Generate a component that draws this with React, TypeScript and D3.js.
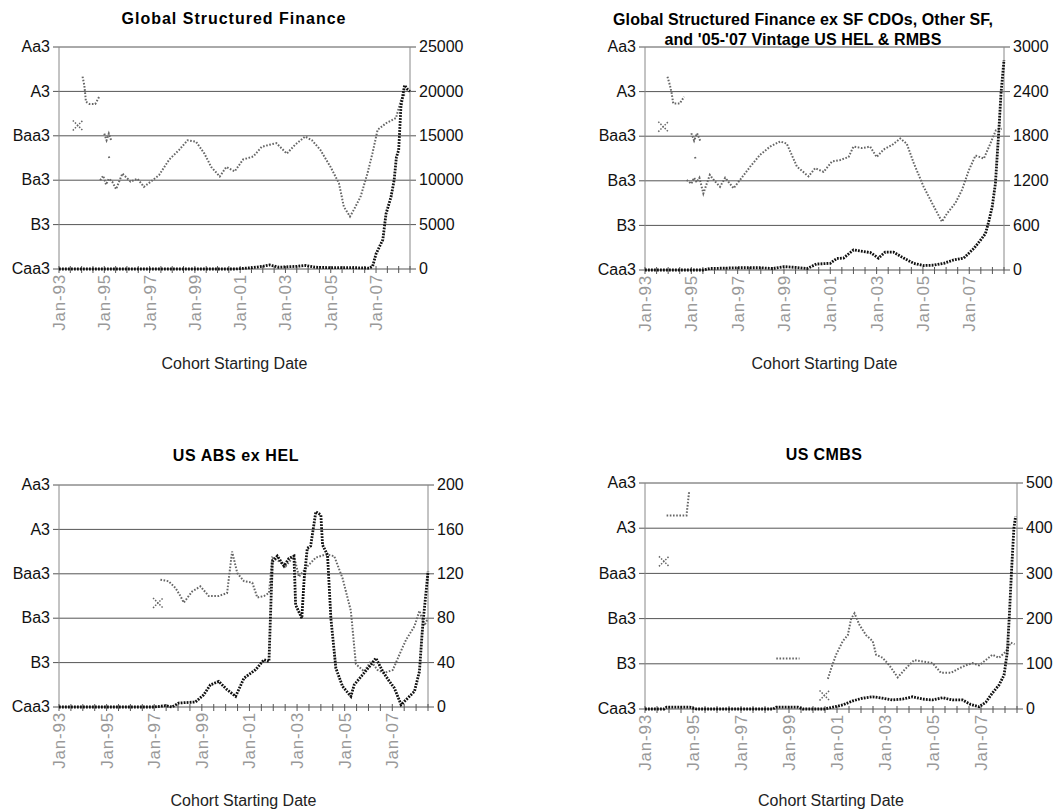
import React from "react";
import * as d3 from "d3";

type Pt = [number, number] | null;

// Rating scale (Moody's numeric: Aa3=4 ... Caa3=19)
const ratingLabels = ["Aa3", "A3", "Baa3", "Ba3", "B3", "Caa3"];
const ratingValues = [4, 7, 10, 13, 16, 19];
const xTickYears = [1993, 1995, 1997, 1999, 2001, 2003, 2005, 2007];
const xTickLabels = ["Jan-93", "Jan-95", "Jan-97", "Jan-99", "Jan-01", "Jan-03", "Jan-05", "Jan-07"];
const xStart = 1993;
const xEnd = 2008.5;
const axisTitle = "Cohort Starting Date";

// Panel 1: Global Structured Finance
const gsfTitle = ["Global Structured Finance"];
const gsfCountTicks = [0, 5000, 10000, 15000, 20000, 25000];
const gsfRating: Pt[] = [
  [1993.83, 9.3], null,
  [1994.04, 6.0], [1994.12, 6.6], [1994.19, 7.7], [1994.35, 7.85], [1994.6, 7.85], [1994.78, 7.35], null,
  [1995.0, 9.85], [1995.1, 10.3], [1995.2, 9.85], [1995.3, 10.3], null,
  [1995.2, 11.4], [1995.22, 11.5], null,
  [1994.82, 13.0], [1994.95, 12.7], [1995.08, 13.3], [1995.2, 12.9], [1995.35, 13.1], [1995.52, 13.6],
  [1995.8, 12.55], [1996.16, 13.1], [1996.46, 12.9], [1996.75, 13.45], [1997.05, 13.1], [1997.42, 12.65],
  [1997.87, 11.6], [1998.3, 10.96], [1998.68, 10.3], [1999.05, 10.4], [1999.42, 11.2], [1999.72, 12.1],
  [2000.1, 12.75], [2000.39, 12.1], [2000.76, 12.4], [2001.13, 11.6], [2001.58, 11.4], [2001.95, 10.75],
  [2002.3, 10.6], [2002.6, 10.5], [2003.06, 11.2], [2003.43, 10.6], [2003.87, 10.05], [2004.17, 10.3],
  [2004.54, 10.95], [2004.99, 12.1], [2005.36, 13.2], [2005.58, 14.8], [2005.85, 15.45], [2006.02, 15.0],
  [2006.32, 14.1], [2006.62, 12.55], [2006.84, 11.2], [2007.07, 9.6], [2007.44, 9.15], [2007.88, 8.8],
  [2008.1, 7.6], [2008.3, 7.1],
];
const gsfCount: Pt[] = [
  [1993, 0], [2000.8, 0], [2001.5, 150], [2002.0, 300], [2002.3, 450], [2002.7, 200], [2003.5, 300],
  [2003.9, 400], [2004.3, 200], [2005, 150], [2006.0, 150], [2006.7, 100], [2006.85, 300], [2007.0, 1700],
  [2007.3, 3300], [2007.44, 6200], [2007.66, 8100], [2007.8, 10000], [2007.9, 12600], [2008.0, 13400],
  [2008.1, 18300], [2008.26, 20700], [2008.4, 20200], [2008.5, 20000],
];

// Panel 2: Global SF ex SF CDOs, Other SF, and '05-'07 Vintage US HEL & RMBS
const gsfExTitle = ["Global Structured Finance ex SF CDOs, Other SF,", "and '05-'07 Vintage US HEL & RMBS"];
const gsfExCountTicks = [0, 600, 1200, 1800, 2400, 3000];
const gsfExRating: Pt[] = [
  [1993.79, 9.36], null,
  [1993.97, 6.0], [1994.08, 6.6], [1994.15, 7.1], [1994.22, 7.8], [1994.5, 7.8], [1994.69, 7.35], null,
  [1995.0, 9.8], [1995.12, 10.3], [1995.25, 9.8], [1995.38, 10.3], null,
  [1995.16, 11.4], [1995.18, 11.5], null,
  [1994.8, 12.95], [1995.0, 13.2], [1995.12, 12.8], [1995.23, 13.1], [1995.35, 12.8], [1995.52, 13.85],
  [1995.8, 12.6], [1996.0, 13.0], [1996.24, 13.4], [1996.46, 12.8], [1996.82, 13.5], [1997.1, 12.95],
  [1997.54, 12.05], [1997.97, 11.25], [1998.4, 10.7], [1998.84, 10.35], [1999.12, 10.5], [1999.56, 12.05],
  [2000.06, 12.7], [2000.35, 12.15], [2000.71, 12.4], [2001.07, 11.7], [2001.43, 11.6], [2001.79, 11.4],
  [2002.0, 10.7], [2002.37, 10.8], [2002.72, 10.7], [2003.0, 11.4], [2003.3, 10.9], [2003.66, 10.6],
  [2004.02, 10.15], [2004.3, 10.5], [2004.6, 11.8], [2005.03, 13.4], [2005.46, 14.7], [2005.82, 15.75],
  [2006.04, 15.2], [2006.4, 14.5], [2006.69, 13.6], [2006.98, 12.3], [2007.27, 11.3], [2007.63, 11.5],
  [2007.91, 10.5], [2008.15, 9.6], [2008.4, 9.5],
];
const gsfExCount: Pt[] = [
  [1993, 0], [1995.5, 0], [1995.8, 20], [1997.0, 30], [1998.0, 30], [1998.5, 20], [1999.0, 45],
  [1999.5, 35], [2000.0, 20], [2000.4, 80], [2001.0, 90], [2001.28, 155], [2001.57, 160], [2002.0, 270],
  [2002.3, 255], [2002.73, 235], [2003.08, 160], [2003.37, 240], [2003.73, 240], [2004.17, 160],
  [2004.6, 90], [2005.03, 60], [2005.46, 65], [2005.9, 90], [2006.33, 135], [2006.76, 160], [2007.2, 290],
  [2007.48, 400], [2007.7, 490], [2007.84, 650], [2007.99, 850], [2008.13, 1165], [2008.27, 1840],
  [2008.37, 2375], [2008.5, 2825],
];

// Panel 3: US ABS ex HEL
const absTitle = ["US ABS ex HEL"];
const absCountTicks = [0, 40, 80, 120, 160, 200];
const absRating: Pt[] = [
  [1997.16, 11.97], null,
  [1997.26, 10.4], [1997.6, 10.5], [1997.89, 10.95], [1998.1, 11.5], [1998.24, 11.95], [1998.59, 11.2],
  [1998.94, 10.85], [1999.29, 11.5], [1999.71, 11.5], [2000.06, 11.3], [2000.27, 8.5], [2000.49, 9.95],
  [2000.77, 10.5], [2001.12, 10.6], [2001.33, 11.6], [2001.61, 11.5], [2001.82, 11.3], [2001.96, 8.9],
  [2002.24, 9.15], [2002.52, 9.5], [2002.87, 8.8], [2003.08, 10.2], [2003.43, 9.5], [2003.79, 8.9],
  [2004.2, 8.7], [2004.56, 8.8], [2004.91, 10.3], [2005.26, 12.5], [2005.47, 16.1], [2005.82, 16.6],
  [2006.1, 15.9], [2006.38, 16.5], [2006.66, 16.7], [2007.02, 16.5], [2007.37, 15.2], [2007.58, 14.45],
  [2007.93, 13.55], [2008.14, 12.5], [2008.35, 13.5], [2008.5, 13.0],
];
const absCount: Pt[] = [
  [1993, 0], [1997.0, 0], [1997.47, 1.2], [1997.75, 0], [1998.03, 3.6], [1998.73, 4.5], [1999.08, 11],
  [1999.36, 20], [1999.71, 23], [2000.06, 15.6], [2000.42, 9.6], [2000.77, 26], [2001.26, 33.6],
  [2001.61, 42.6], [2001.82, 41], [2001.89, 86], [2001.96, 131], [2002.17, 136], [2002.45, 127],
  [2002.66, 134], [2002.87, 136], [2002.94, 92], [2003.2, 80], [2003.3, 116], [2003.43, 143],
  [2003.57, 145], [2003.79, 176], [2004.0, 173], [2004.07, 146], [2004.28, 137], [2004.42, 80],
  [2004.63, 35], [2004.91, 18.6], [2005.26, 9.6], [2005.4, 20], [2005.75, 29], [2006.1, 38], [2006.31, 44],
  [2006.6, 32], [2006.88, 23], [2007.09, 17], [2007.37, 2], [2007.58, 6.6], [2007.93, 14], [2008.14, 32],
  [2008.28, 74], [2008.42, 104], [2008.5, 122],
];

// Panel 4: US CMBS
const cmbsTitle = ["US CMBS"];
const cmbsCountTicks = [0, 100, 200, 300, 400, 500];
const cmbsRating: Pt[] = [
  [1993.79, 9.2], null,
  [1993.9, 6.15], [1994.2, 6.15], [1994.5, 6.15], [1994.73, 6.15], [1994.84, 4.55], null,
  [1998.47, 15.65], [1999.44, 15.65], null,
  [2000.48, 18.1], null,
  [2000.62, 17.0], [2000.76, 16.3], [2000.96, 15.4], [2001.24, 14.5], [2001.45, 14.1], [2001.59, 13.0],
  [2001.73, 12.65], [2001.93, 13.4], [2002.21, 14.1], [2002.49, 14.5], [2002.63, 15.4], [2002.9, 15.6],
  [2003.18, 16.1], [2003.53, 16.9], [2003.87, 16.3], [2004.22, 15.75], [2004.56, 15.85], [2004.98, 15.95],
  [2005.33, 16.6], [2005.75, 16.6], [2006.09, 16.3], [2006.37, 16.1], [2006.64, 15.95], [2006.92, 16.1],
  [2007.2, 15.75], [2007.47, 15.4], [2007.75, 15.6], [2008.03, 15.2], [2008.24, 14.6], [2008.4, 14.7],
];
const cmbsCount: Pt[] = [
  [1993, 0], [1993.8, 0], [1993.9, 4], [1994.87, 4], [1995.15, 0], [1998.33, 0], [1998.47, 4],
  [1999.37, 4], [1999.58, 0], [2000.48, 0], [2000.83, 4], [2001.24, 9], [2001.66, 18], [2002.07, 24],
  [2002.49, 27], [2002.9, 24], [2003.32, 20], [2003.73, 22], [2004.15, 27], [2004.56, 22], [2004.98, 20],
  [2005.4, 25], [2005.81, 20], [2006.23, 20], [2006.57, 10], [2006.92, 5], [2007.2, 15], [2007.47, 35],
  [2007.75, 53], [2007.96, 75], [2008.1, 127], [2008.19, 216], [2008.27, 304], [2008.37, 400],
  [2008.44, 426],
];

const FONT = "'Liberation Sans', Arial, sans-serif";

type PanelProps = {
  title: string[];
  titleX: number;
  titleY: number;
  titleSpacing: number;
  left: number;
  right: number;
  top: number;
  bottom: number;
  countTicks: number[];
  rating: Pt[];
  count: Pt[];
  axisTitleY: number;
};

function Panel(p: PanelProps) {
  const x = d3.scaleLinear().domain([xStart, xEnd]).range([p.left, p.right]);
  const yR = d3.scaleLinear().domain([19, 4]).range([p.bottom, p.top]);
  const maxC = p.countTicks[p.countTicks.length - 1];
  const yC = d3.scaleLinear().domain([0, maxC]).range([p.bottom, p.top]);

  const ratingLine = d3
    .line<Pt>()
    .defined((d) => d != null)
    .x((d) => x((d as [number, number])[0]))
    .y((d) => yR((d as [number, number])[1]));
  const countLine = d3
    .line<Pt>()
    .defined((d) => d != null)
    .x((d) => x((d as [number, number])[0]))
    .y((d) => yC((d as [number, number])[1]));

  const isolated = p.rating.filter((d, i) => {
    if (!d) return false;
    const prev = i > 0 ? p.rating[i - 1] : null;
    const next = i < p.rating.length - 1 ? p.rating[i + 1] : null;
    return !prev && !next;
  }) as [number, number][];

  const minorTicks = d3.range(xStart, xEnd + 0.001, 0.5);
  const cx = (p.left + p.right) / 2;

  return (
    <g>
      {p.title.map((t, i) => (
        <text
          key={i}
          x={p.titleX}
          y={p.titleY + i * 20}
          textAnchor="middle"
          fontFamily={FONT}
          fontWeight="bold"
          fontSize={16}
          letterSpacing={p.titleSpacing}
          fill="#000"
        >
          {t}
        </text>
      ))}
      {/* gridlines */}
      {ratingValues.map((v, i) => (
        <line key={i} x1={p.left - 6} x2={p.right + 6} y1={yR(v)} y2={yR(v)} stroke="#555" strokeWidth={1} />
      ))}
      {/* axes */}
      <line x1={p.left} x2={p.left} y1={p.top} y2={p.bottom} stroke="#888" strokeWidth={1} />
      <line x1={p.right} x2={p.right} y1={p.top} y2={p.bottom} stroke="#888" strokeWidth={1} />
      {minorTicks.map((t, i) => (
        <line key={i} x1={x(t)} x2={x(t)} y1={p.bottom - 3} y2={p.bottom + 4} stroke="#555" strokeWidth={1} />
      ))}
      {ratingLabels.map((l, i) => (
        <text
          key={l}
          x={p.left - 9}
          y={yR(ratingValues[i])}
          dy="0.33em"
          textAnchor="end"
          fontFamily={FONT}
          fontSize={16}
          fill="#111"
        >
          {l}
        </text>
      ))}
      {p.countTicks.map((v) => (
        <text
          key={v}
          x={p.right + 9}
          y={yC(v)}
          dy="0.33em"
          textAnchor="start"
          fontFamily={FONT}
          fontSize={16}
          fill="#111"
        >
          {v}
        </text>
      ))}
      {xTickYears.map((t, i) => (
        <text
          key={t}
          transform={`translate(${x(t) + 6},${p.bottom + 5}) rotate(-90)`}
          textAnchor="end"
          fontFamily={FONT}
          fontSize={17}
          letterSpacing={0.8}
          fill="#999"
        >
          {xTickLabels[i]}
        </text>
      ))}
      <text x={cx} y={p.axisTitleY} textAnchor="middle" fontFamily={FONT} fontSize={16} fill="#222">
        {axisTitle}
      </text>
      {/* series */}
      <path
        d={ratingLine(p.rating) || ""}
        fill="none"
        stroke="#666"
        strokeWidth={2}
        strokeDasharray="1.6 1.6"
      />
      {isolated.map((d, i) => {
        const px = x(d[0]);
        const py = yR(d[1]);
        return (
          <g key={i} stroke="#666" strokeWidth={1.5} strokeDasharray="1.5 1.5">
            <line x1={px - 5} x2={px + 5} y1={py - 5} y2={py + 5} />
            <line x1={px - 5} x2={px + 5} y1={py + 5} y2={py - 5} />
          </g>
        );
      })}
      <path
        d={countLine(p.count) || ""}
        fill="none"
        stroke="#111"
        strokeWidth={2.8}
        strokeDasharray="1.8 1.2"
      />
    </g>
  );
}

export default function App() {
  return (
    <svg width={1059} height={810} style={{ display: "block", position: "absolute", left: 0, top: 0 }}>
      <rect width={1059} height={810} fill="#fff" />
      <Panel
        title={gsfTitle}
        titleX={234}
        titleY={24}
        titleSpacing={1}
        left={59}
        right={410}
        top={47}
        bottom={269}
        countTicks={gsfCountTicks}
        rating={gsfRating}
        count={gsfCount}
        axisTitleY={369}
      />
      <Panel
        title={gsfExTitle}
        titleX={803}
        titleY={25}
        titleSpacing={0.1}
        left={645}
        right={1004}
        top={47}
        bottom={270}
        countTicks={gsfExCountTicks}
        rating={gsfExRating}
        count={gsfExCount}
        axisTitleY={369}
      />
      <Panel
        title={absTitle}
        titleX={236}
        titleY={461}
        titleSpacing={0.6}
        left={59}
        right={428}
        top={485}
        bottom={707}
        countTicks={absCountTicks}
        rating={absRating}
        count={absCount}
        axisTitleY={806}
      />
      <Panel
        title={cmbsTitle}
        titleX={824}
        titleY={460}
        titleSpacing={0.4}
        left={645}
        right={1017}
        top={483}
        bottom={709}
        countTicks={cmbsCountTicks}
        rating={cmbsRating}
        count={cmbsCount}
        axisTitleY={806}
      />
    </svg>
  );
}
